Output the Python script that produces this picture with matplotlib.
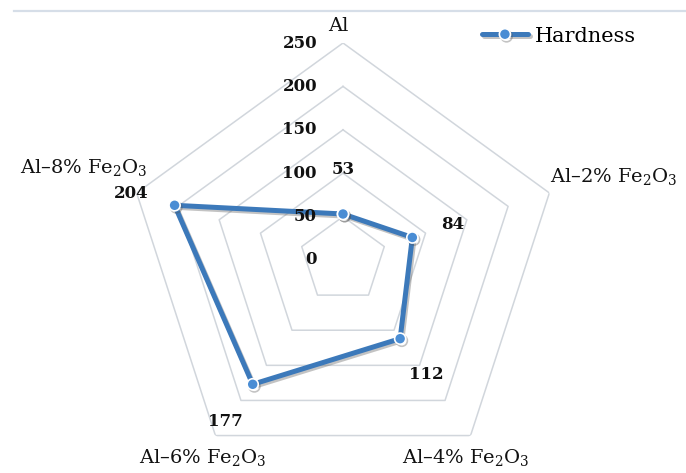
import numpy as np
import matplotlib
matplotlib.use("Agg")
import matplotlib.pyplot as plt
import matplotlib.patheffects as path_effects

plt.rcParams['font.family'] = ['DejaVu Serif']
plt.rcParams['mathtext.fontset'] = 'dejavuserif'

# data
categories = ["Al", "Al–2% Fe$_2$O$_3$", "Al–4% Fe$_2$O$_3$",
              "Al–6% Fe$_2$O$_3$", "Al–8% Fe$_2$O$_3$"]
hardness = [53, 84, 112, 177, 204]
ring_ticks = [0, 50, 100, 150, 200, 250]
series_name = "Hardness"

LINE_COLOR = "#3c79ba"
MARKER_COLOR = "#4a8dd4"
GRID_COLOR = "#d1d6dc"
PX = 0.72  # pixels -> points at dpi 100

fig = plt.figure(figsize=(6.86, 4.73), dpi=100)
ax = fig.add_axes([126 / 686, -4 / 473, 434 / 686, 434 / 473], projection="polar")
ax.set_theta_offset(np.pi / 2)
ax.set_theta_direction(-1)
ax.set_ylim(0, 250)
ax.grid(False)
ax.spines["polar"].set_visible(False)
ax.set_xticks([])
ax.set_yticks([])
ax.patch.set_alpha(0)

angles = np.linspace(0, 2 * np.pi, len(categories), endpoint=False)
closed = np.append(angles, angles[0])

# pentagon rings
for r in ring_ticks[1:]:
    ax.plot(closed, [r] * len(closed), color=GRID_COLOR, lw=1.1, zorder=1)

# ring labels along the top axis
for r in ring_ticks:
    ax.annotate(str(r), (0, r), xytext=(-26 * PX, 0), textcoords="offset points",
                ha="right", va="center", fontsize=12, fontweight="bold",
                color="#111111", zorder=5)

# series
vals = hardness + hardness[:1]
line, = ax.plot(closed, vals, color=LINE_COLOR, lw=3.6, marker="o",
                markersize=8, markerfacecolor=MARKER_COLOR,
                markeredgecolor="white", markeredgewidth=1.2,
                solid_capstyle="round", solid_joinstyle="round",
                label=series_name, zorder=3)
line.set_path_effects([
    path_effects.SimpleLineShadow(offset=(1.2, -1.5), shadow_color="#555555", alpha=0.35),
    path_effects.Normal(),
])

# data labels (offsets in pixels, screen x right / y up)
label_offsets = [(0, 44), (40, 13), (26, -36), (-27, -37), (-43, 12)]
for ang, v, (dx, dy) in zip(angles, hardness, label_offsets):
    ax.annotate(str(v), (ang, v), xytext=(dx * PX, dy * PX), textcoords="offset points",
                ha="center", va="center", fontsize=12, fontweight="bold",
                color="#111111")

# category labels (offsets from outer vertex, to text baseline)
cat_offsets = [(-5, 12, "center"), (1, 11, "left"), (-5, -27, "center"),
               (-13, -27, "center"), (11, 20, "right")]
for ang, name, (dx, dy, ha) in zip(angles, categories, cat_offsets):
    ax.annotate(name, (ang, 250), xytext=(dx * PX, dy * PX), textcoords="offset points",
                ha=ha, va="baseline", fontsize=14, color="#111111")

leg = ax.legend(loc="center left", bbox_to_anchor=(482 / 686, 1 - 36 / 473),
                bbox_transform=fig.transFigure, frameon=False, fontsize=15,
                handlelength=2.2, handletextpad=0.35, borderpad=0, borderaxespad=0)

# thin rule along the top of the chart area
fig.add_artist(plt.Line2D([14 / 686, 1], [1 - 11 / 473, 1 - 11 / 473],
                          transform=fig.transFigure, color="#d6dee8", lw=1.6))

fig.savefig("out.png", dpi=100)
